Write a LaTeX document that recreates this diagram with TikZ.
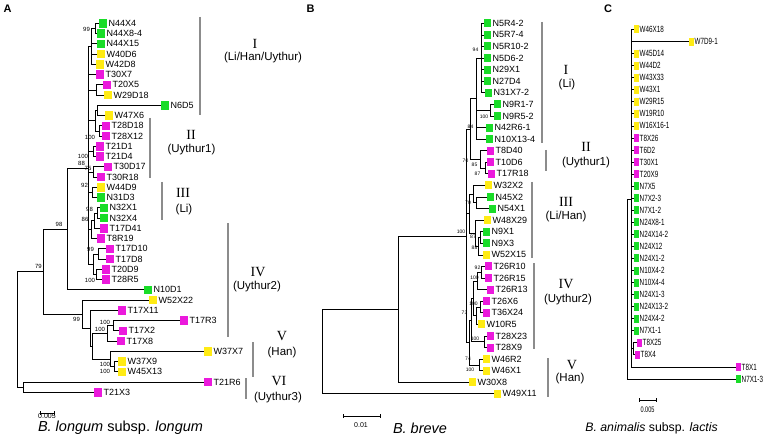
\documentclass[tikz,border=0pt]{standalone}
\usepackage{fontspec}
\setmainfont{Liberation Sans}
\newfontfamily\serifrm{Liberation Serif}
\newfontfamily\narrowf[FakeStretch=0.7]{Liberation Sans}
\definecolor{grn}{RGB}{25,220,40}
\definecolor{mag}{RGB}{235,25,220}
\definecolor{ylw}{RGB}{255,235,20}
\definecolor{bargray}{RGB}{140,140,140}
\tikzset{
  tr/.style={draw=black, line width=0.75pt},
  sqa/.style={draw=none, minimum width=8pt, minimum height=8.5pt, inner sep=0pt, outer sep=0pt, anchor=west, label distance=3pt},
  sqb/.style={draw=none, minimum width=7pt, minimum height=8pt, inner sep=0pt, outer sep=0pt, anchor=west, label distance=2.5pt},
  sqc/.style={draw=none, minimum width=5pt, minimum height=8pt, inner sep=0pt, outer sep=0pt, anchor=west, label distance=1.5pt},
  lab/.style={font=\fontsize{9}{10}\selectfont, inner sep=0pt, xshift=1.5pt},
  labc/.style={font=\narrowf\fontsize{9}{10}\selectfont, inner sep=0pt, xshift=0.5pt},
  bsa/.style={font=\fontsize{6}{7}\selectfont, inner sep=0pt},
  bsb/.style={font=\fontsize{5}{6}\selectfont, inner sep=0pt},
  clbar/.style={draw=bargray, line width=2.6pt},
  rom/.style={font=\serifrm\fontsize{14}{16}\selectfont, inner sep=0pt},
  grp/.style={font=\fontsize{11.5}{13}\selectfont, inner sep=0pt},
  plet/.style={font=\bfseries\fontsize{11}{12}\selectfont, inner sep=0pt},
  capt/.style={inner sep=0pt},
}
\newcommand\leafA[5]{\node[sqa, fill=#4, label={[lab]east:#5}] (#1) at (#2,{23.3+10.25*#3}) {};}
\newcommand\leafB[5]{\node[sqb, fill=#4, label={[lab]east:#5}] (#1) at (#2,{23.3+11.58*#3}) {};}
\newcommand\leafC[5]{\node[sqc, fill=#4, label={[labc]east:#5}] (#1) at (#2,{29.5+12.05*#3}) {};}
\newcommand\brc[2]{\foreach \cc in {#2}{\draw[tr] (#1) |- (\cc);}}
\begin{document}
\begin{tikzpicture}[x=1pt,y=-1pt]
\useasboundingbox (0,0) rectangle (767,438);
% ---------------- Panel A ----------------
\node[plet] (pA) at (7.5,9) {A};
\leafA{a0}{99}{0}{grn}{N44X4}
\leafA{a1}{97}{1}{grn}{N44X8-4}
\leafA{a2}{97}{2}{grn}{N44X15}
\leafA{a3}{97}{3}{ylw}{W40D6}
\leafA{a4}{96}{4}{ylw}{W42D8}
\leafA{a5}{96}{5}{mag}{T30X7}
\leafA{a6}{103}{6}{mag}{T20X5}
\leafA{a7}{104}{7}{ylw}{W29D18}
\leafA{a8}{161}{8}{grn}{N6D5}
\leafA{a9}{105}{9}{ylw}{W47X6}
\leafA{a10}{102}{10}{mag}{T28D18}
\leafA{a11}{102}{11}{mag}{T28X12}
\leafA{a12}{96}{12}{mag}{T21D1}
\leafA{a13}{96}{13}{mag}{T21D4}
\leafA{a14}{104}{14}{mag}{T30D17}
\leafA{a15}{97}{15}{mag}{T30R18}
\leafA{a16}{97}{16}{ylw}{W44D9}
\leafA{a17}{97}{17}{grn}{N31D3}
\leafA{a18}{100}{18}{grn}{N32X1}
\leafA{a19}{100}{19}{grn}{N32X4}
\leafA{a20}{100}{20}{mag}{T17D41}
\leafA{a21}{97}{21}{mag}{T8R19}
\leafA{a22}{106}{22}{mag}{T17D10}
\leafA{a23}{106}{23}{mag}{T17D8}
\leafA{a24}{102}{24}{mag}{T20D9}
\leafA{a25}{102}{25}{mag}{T28R5}
\leafA{a26}{144}{26}{grn}{N10D1}
\leafA{a27}{149}{27}{ylw}{W52X22}
\leafA{a28}{118}{28}{mag}{T17X11}
\leafA{a29}{180}{29}{mag}{T17R3}
\leafA{a30}{119}{30}{mag}{T17X2}
\leafA{a31}{117}{31}{mag}{T17X8}
\leafA{a32}{204}{32}{ylw}{W37X7}
\leafA{a33}{118}{33}{ylw}{W37X9}
\leafA{a34}{118}{34}{ylw}{W45X13}
\leafA{a35}{204}{35}{mag}{T21R6}
\leafA{a36}{94}{36}{mag}{T21X3}
\coordinate (p1) at (95,28.4);
\coordinate (p2) at (91,46.4);
\coordinate (p3) at (96,89.9);
\coordinate (p4) at (97,110.4);
\coordinate (p5) at (99,130.9);
\coordinate (p45) at (95,120.7);
\coordinate (p6) at (93,151.4);
\coordinate (p7) at (93,171.9);
\coordinate (p8) at (92,192.4);
\coordinate (p9) at (97,212.9);
\coordinate (p10) at (94,220.6);
\coordinate (p11) at (91,229.6);
\coordinate (p12) at (98,253.9);
\coordinate (p13) at (96,274.4);
\coordinate (p14) at (93,264.2);
\coordinate (Bn) at (88,168);
\coordinate (b2) at (67,228.9);
\coordinate (q101) at (113,325.7);
\coordinate (q102) at (107,333.4);
\coordinate (q104) at (114,366.7);
\coordinate (q103) at (110,359);
\coordinate (q105) at (92,346.2);
\coordinate (q106) at (90,328.3);
\coordinate (q107) at (82,314.2);
\coordinate (Mn) at (43,271.6);
\coordinate (t1) at (23,387.2);
\coordinate (rootA) at (17,329.4);
\brc{p1}{a0,a1}
\brc{p2}{p1,a2,a3,a4}
\brc{p3}{a6,a7}
\brc{p4}{a8,a9}
\brc{p5}{a10,a11}
\brc{p45}{p4,p5}
\brc{p6}{a12,a13}
\brc{p7}{a14,a15}
\brc{p8}{a16,a17}
\brc{p9}{a18,a19}
\brc{p10}{p9,a20}
\brc{p11}{p10,a21}
\brc{p12}{a22,a23}
\brc{p13}{a24,a25}
\brc{p14}{p12,p13}
\brc{Bn}{p2,a5,p3,p45,p6,p7,p8,p11,p14}
\brc{b2}{Bn,a26}
\brc{q101}{a29,a30}
\brc{q102}{q101,a31}
\brc{q104}{a33,a34}
\brc{q103}{a32,q104}
\brc{q105}{q102,q103}
\brc{q106}{a28,q105}
\brc{q107}{a27,q106}
\brc{Mn}{b2,q107}
\brc{t1}{a35,a36}
\brc{rootA}{Mn,t1}
% bootstrap A
\node[bsa] at (86.5,29.5) {99};
\node[bsa] at (38.5,266.5) {79};
\node[bsa] at (59,224.5) {98};
\node[bsa] at (81.5,163) {88};
\node[bsa] at (88,168) {75};
\node[bsa] at (90,137) {100};
\node[bsa] at (83,156) {100};
\node[bsa] at (84.5,185) {92};
\node[bsa] at (89.5,209) {98};
\node[bsa] at (85,219) {86};
\node[bsa] at (90.5,249) {99};
\node[bsa] at (90,280) {100};
\node[bsa] at (76.5,319) {99};
\node[bsa] at (105,322) {100};
\node[bsa] at (100,329) {100};
\node[bsa] at (105,364) {100};
\node[bsa] at (105,371) {100};
% clade bars A
\draw[clbar] (200,17) -- (200,115);
\draw[clbar] (150,118) -- (150,178);
\draw[clbar] (162,182) -- (162,220);
\draw[clbar] (228,223) -- (228,337);
\draw[clbar] (253,342) -- (253,377);
\draw[clbar] (246,378) -- (246,399);
\node[rom] at (255,44) {I};
\node[grp] at (263,58) {(Li/Han/Uythur)};
\node[rom] at (191,135) {II};
\node[grp] at (191.5,150) {(Uythur1)};
\node[rom] at (183,193) {III};
\node[grp] at (184,210) {(Li)};
\node[rom] at (258,272) {IV};
\node[grp] at (257,287) {(Uythur2)};
\node[rom] at (282,336) {V};
\node[grp] at (282,353) {(Han)};
\node[rom] at (279,381) {VI};
\node[grp] at (278,398) {(Uythur3)};
% scale A
\draw[tr] (40,411) -- (40,415) (40,413) -- (54,413) (54,411) -- (54,415);
\node[font=\fontsize{7}{8}\selectfont, inner sep=0pt] at (47,416) {0.005};
\node[capt, font=\fontsize{14.5}{16}\selectfont] (capA) at (120.5,428) {\textit{B. longum} subsp. \textit{longum}};
% ---------------- Panel B ----------------
\node[plet] (pB) at (310.5,9) {B};
\leafB{b0}{484}{0}{grn}{N5R4-2}
\leafB{b1}{484}{1}{grn}{N5R7-4}
\leafB{b2l}{484}{2}{grn}{N5R10-2}
\leafB{b3}{484}{3}{grn}{N5D6-2}
\leafB{b4}{484}{4}{grn}{N29X1}
\leafB{b5}{484}{5}{grn}{N27D4}
\leafB{b6}{485}{6}{grn}{N31X7-2}
\leafB{b7}{494}{7}{grn}{N9R1-7}
\leafB{b8}{494}{8}{grn}{N9R5-2}
\leafB{b9}{486}{9}{grn}{N42R6-1}
\leafB{b10}{486}{10}{grn}{N10X13-4}
\leafB{b11}{487}{11}{mag}{T8D40}
\leafB{b12}{487}{12}{mag}{T10D6}
\leafB{b13}{488}{13}{mag}{T17R18}
\leafB{b14}{485}{14}{ylw}{W32X2}
\leafB{b15}{487}{15}{grn}{N45X2}
\leafB{b16}{489}{16}{grn}{N54X1}
\leafB{b17}{484}{17}{ylw}{W48X29}
\leafB{b18}{483}{18}{grn}{N9X1}
\leafB{b19}{483}{19}{grn}{N9X3}
\leafB{b20}{483}{20}{ylw}{W52X15}
\leafB{b21}{485}{21}{mag}{T26R10}
\leafB{b22}{485}{22}{mag}{T26R15}
\leafB{b23}{487}{23}{mag}{T26R13}
\leafB{b24}{483}{24}{mag}{T26X6}
\leafB{b25}{483}{25}{mag}{T36X24}
\leafB{b26}{478}{26}{ylw}{W10R5}
\leafB{b27}{487}{27}{mag}{T28X23}
\leafB{b28}{487}{28}{mag}{T28X9}
\leafB{b29}{483}{29}{ylw}{W46R2}
\leafB{b30}{483}{30}{ylw}{W46X1}
\leafB{b31}{469}{31}{ylw}{W30X8}
\leafB{b32}{494}{32}{ylw}{W49X11}
\coordinate (s1) at (481,58.04);
\coordinate (s2) at (490,110.15);
\coordinate (s3) at (476,98.57);
\coordinate (s5) at (485,168.05);
\coordinate (s6) at (480,159.37);
\coordinate (s7) at (470,128.97);
\coordinate (s8) at (476,202.79);
\coordinate (s9) at (473,194.1);
\coordinate (s10) at (480,237.53);
\coordinate (s11) at (478,246.2);
\coordinate (s12) at (475,233.18);
\coordinate (s13) at (469,213.64);
\coordinate (s14) at (481,272.27);
\coordinate (s15) at (477,280.96);
\coordinate (s16) at (480,307.01);
\coordinate (s17) at (476,315.7);
\coordinate (s18) at (473,298.33);
\coordinate (s19) at (484,341.75);
\coordinate (s20) at (471,320.04);
\coordinate (s21) at (479,364.91);
\coordinate (s22) at (469,342.48);
\coordinate (sR) at (466,236.7);
\coordinate (sQ) at (398,309.49);
\coordinate (rootB) at (322,351.7);
\brc{s1}{b0,b1,b2l,b3,b4,b5,b6}
\brc{s2}{b7,b8}
\brc{s3}{s1,s2,b9,b10}
\brc{s5}{b12,b13}
\brc{s6}{b11,s5}
\brc{s7}{s3,s6}
\brc{s8}{b15,b16}
\brc{s9}{b14,s8}
\brc{s10}{b18,b19}
\brc{s11}{s10,b20}
\brc{s12}{b17,s11}
\brc{s13}{s9,s12}
\brc{s14}{b21,b22}
\brc{s15}{s14,b23}
\brc{s16}{b24,b25}
\brc{s17}{s16,b26}
\brc{s18}{s15,s17}
\brc{s19}{b27,b28}
\brc{s20}{s18,s19}
\brc{s21}{b29,b30}
\brc{s22}{s20,s21}
\brc{sR}{s7,s13,s22}
\brc{sQ}{sR,b31}
\brc{rootB}{sQ,b32}
% bootstrap B
\node[bsb] at (475.5,50) {94};
\node[bsb] at (484,117) {100};
\node[bsb] at (470.5,127) {84};
\node[bsb] at (465.5,161) {70};
\node[bsb] at (474.5,165) {85};
\node[bsb] at (477.5,174) {87};
\node[bsb] at (468,203) {70};
\node[bsb] at (461,232) {100};
\node[bsb] at (473,237) {87};
\node[bsb] at (474.5,248) {88};
\node[bsb] at (477.5,268) {92};
\node[bsb] at (474.5,278) {100};
\node[bsb] at (473.5,304) {100};
\node[bsb] at (464.5,313) {73};
\node[bsb] at (475,339) {100};
\node[bsb] at (468,359) {74};
\node[bsb] at (470,370) {100};
% clade bars B
\draw[clbar] (542,22) -- (542,143);
\draw[clbar] (546,150) -- (546,171);
\draw[clbar] (532,182) -- (532,258);
\draw[clbar] (534,263) -- (534,349);
\draw[clbar] (548,358) -- (548,397);
\node[rom] at (566,70) {I};
\node[grp] at (567,85) {(Li)};
\node[rom] at (586,147) {II};
\node[grp] at (586,163) {(Uythur1)};
\node[rom] at (566,202) {III};
\node[grp] at (566,217) {(Li/Han)};
\node[rom] at (566,284) {IV};
\node[grp] at (568,300) {(Uythur2)};
\node[rom] at (572,365) {V};
\node[grp] at (570,379) {(Han)};
% scale B
\draw[tr] (343,414) -- (343,418) (343,416) -- (380,416) (380,414) -- (380,418);
\node[font=\fontsize{7}{8}\selectfont, inner sep=0pt] at (361,425) {0.01};
\node[capt, font=\fontsize{14.5}{16}\selectfont] (capB) at (420,428) {\textit{B. breve}};
% ---------------- Panel C ----------------
\node[plet] (pC) at (608,9) {C};
\leafC{c0}{634}{0}{ylw}{W46X18}
\leafC{c1}{689}{1}{ylw}{W7D9-1}
\leafC{c2}{634}{2}{ylw}{W45D14}
\leafC{c3}{634}{3}{ylw}{W44D2}
\leafC{c4}{634}{4}{ylw}{W43X33}
\leafC{c5}{634}{5}{ylw}{W43X1}
\leafC{c6}{634}{6}{ylw}{W29R15}
\leafC{c7}{634}{7}{ylw}{W19R10}
\leafC{c8}{634}{8}{ylw}{W16X16-1}
\leafC{c9}{634}{9}{mag}{T8X26}
\leafC{c10}{634}{10}{mag}{T6D2}
\leafC{c11}{634}{11}{mag}{T30X1}
\leafC{c12}{634}{12}{mag}{T20X9}
\leafC{c13}{634}{13}{grn}{N7X5}
\leafC{c14}{634}{14}{grn}{N7X2-3}
\leafC{c15}{634}{15}{grn}{N7X1-2}
\leafC{c16}{634}{16}{grn}{N24X8-1}
\leafC{c17}{634}{17}{grn}{N24X14-2}
\leafC{c18}{634}{18}{grn}{N24X12}
\leafC{c19}{634}{19}{grn}{N24X1-2}
\leafC{c20}{634}{20}{grn}{N10X4-2}
\leafC{c21}{634}{21}{grn}{N10X4-4}
\leafC{c22}{634}{22}{grn}{N24X1-3}
\leafC{c23}{634}{23}{grn}{N24X13-2}
\leafC{c24}{634}{24}{grn}{N24X4-2}
\leafC{c25}{634}{25}{grn}{N7X1-1}
\leafC{c26}{637}{26}{mag}{T8X25}
\leafC{c27}{635}{27}{mag}{T8X4}
\leafC{c28}{736}{28}{mag}{T8X1}
\leafC{c29}{736}{29}{grn}{N7X1-3}
\coordinate (u1) at (633,348.8);
\coordinate (u2) at (631,199);
\coordinate (rootC) at (627,289);
\brc{u1}{c26,c27}
\brc{u2}{c0,c1,c2,c3,c4,c5,c6,c7,c8,c9,c10,c11,c12,c13,c14,c15,c16,c17,c18,c19,c20,c21,c22,c23,c24,c25,u1,c28}
\brc{rootC}{u2,c29}
% scale C
\draw[tr] (639,398) -- (639,402) (639,400) -- (656,400) (656,398) -- (656,402);
\node[font=\narrowf\fontsize{8}{9}\selectfont, inner sep=0pt] at (647.5,410) {0.005};
\node[capt, font=\fontsize{12.3}{14}\selectfont] (capC) at (651.5,428) {\textit{B. animalis} subsp. \textit{lactis}};
\end{tikzpicture}
\end{document}
